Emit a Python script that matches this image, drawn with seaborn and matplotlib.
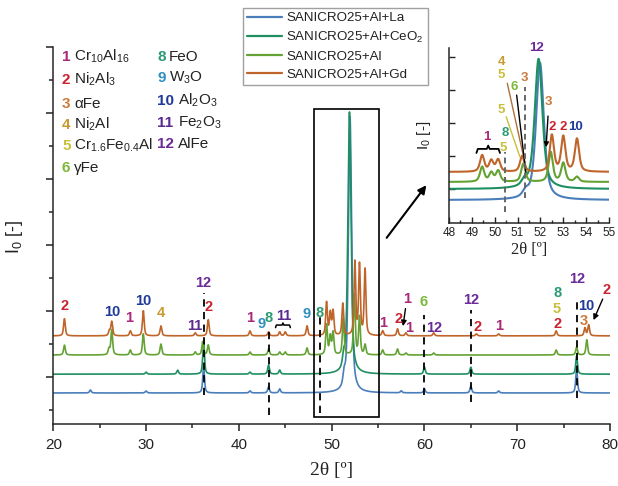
import numpy as np
import pandas as pd
import matplotlib
matplotlib.use("Agg")
import matplotlib.pyplot as plt
import seaborn as sns
from matplotlib.lines import Line2D
from matplotlib.patches import Rectangle
from matplotlib.ticker import MultipleLocator, FixedLocator

# ---------------------------------------------------------------- data
samples = ["SANICRO25+Al+La", "SANICRO25+Al+CeO$_2$", "SANICRO25+Al", "SANICRO25+Al+Gd"]
line_colors = ["#4a7ebb", "#1f8f62", "#63a233", "#c0652a"]

# reflections: 2θ position and intensity (a.u.)
la_pos = [24.0, 30.0, 36.2, 41.2, 43.2, 44.4, 51.35, 51.98, 57.5, 60.0, 65.0, 68.0, 76.4]
la_int = [0.09, 0.06, 0.79, 0.06, 0.18, 0.12, 0.35, 8.36, 0.06, 0.12, 0.21, 0.06, 0.73]

ceo2_pos = [30.0, 33.4, 36.2, 41.2, 43.2, 44.4, 51.3, 51.92, 60.0, 65.0, 76.4]
ceo2_int = [0.06, 0.12, 0.97, 0.06, 0.27, 0.12, 0.35, 7.93, 0.21, 0.21, 0.55]

al_pos = [21.2, 26.0, 26.3, 28.3, 29.7, 31.6, 35.3, 36.1, 36.7, 41.2, 43.2, 44.4,
          45.0, 47.35, 49.45, 49.85, 50.15, 51.25, 52.45, 53.0, 53.6, 55.5, 57.1,
          58.0, 61.0, 74.2, 76.4, 77.5]
al_int = [0.30, 0.18, 0.76, 0.15, 0.64, 0.33, 0.09, 0.40, 0.30, 0.09, 0.18, 0.09,
          0.09, 0.21, 0.91, 0.55, 0.67, 1.10, 1.82, 1.15, 0.30, 0.15, 0.18,
          0.06, 0.06, 0.15, 0.24, 0.46]

gd_pos = [21.2, 26.05, 26.3, 28.3, 29.7, 31.6, 35.3, 36.7, 41.2, 43.2, 44.4, 45.0,
          47.35, 49.45, 49.85, 50.15, 51.2, 52.5, 53.0, 53.6, 55.5, 57.1, 58.0,
          61.0, 65.6, 68.0, 74.2, 77.3, 77.7]
gd_int = [0.52, 0.15, 0.43, 0.15, 0.76, 0.30, 0.09, 0.49, 0.15, 0.12, 0.12, 0.12,
          0.30, 1.00, 0.67, 0.73, 0.97, 2.22, 2.13, 2.00, 0.15, 0.21, 0.09,
          0.09, 0.06, 0.06, 0.15, 0.24, 0.33]

peak_sets = [(la_pos, la_int), (ceo2_pos, ceo2_int), (al_pos, al_int), (gd_pos, gd_int)]

# phase key
phase_ids = [1, 2, 3, 4, 5, 6, 8, 9, 10, 11, 12]
phase_names = ["Cr$_{10}$Al$_{16}$", "Ni$_2$Al$_3$", "αFe", "Ni$_2$Al",
               "Cr$_{1.6}$Fe$_{0.4}$Al", "γFe", "FeO", "W$_3$O",
               "Al$_2$O$_3$", "Fe$_2$O$_3$", "AlFe"]
phase_colors = {1: "#a8287a", 2: "#c8232f", 3: "#cc7a3c", 4: "#c99a2e",
                5: "#c9bf3a", 6: "#7cb83a", 8: "#2a9a74", 9: "#2f8fc0",
                10: "#1f3a9a", 11: "#5a2a90", 12: "#6a2a98"}

# phase labels on the full pattern: id, 2θ, height
main_lab_id = [2, 10, 1, 10, 4, 11, 12, 2, 1, 9, 8, 11, 9, 8, 1, 2, 1, 1, 6, 12,
               12, 2, 1, 8, 5, 2, 12, 10, 3, 2]
main_lab_x = [21.2, 26.3, 28.2, 29.7, 31.6, 35.2, 36.2, 36.7, 41.2, 42.4, 43.2, 44.8,
              47.3, 48.7, 55.6, 57.2, 58.1, 58.4, 59.9, 61.1, 65.0, 65.7, 68.0,
              74.3, 74.3, 74.3, 76.5, 77.4, 77.2, 79.6]
main_lab_y = [3.16, 2.98, 2.80, 3.31, 2.95, 2.55, 3.86, 3.13, 2.80, 2.61, 2.80, 2.86,
              2.92, 2.95, 2.64, 2.77, 3.37, 2.49, 3.28, 2.49, 3.34, 2.52, 2.55,
              3.56, 3.07, 2.61, 3.98, 3.16, 2.70, 3.65]

# phase labels on the enlarged 48-55° window
ins_lab_id = [1, 8, 5, 12, 4, 5, 6, 3, 5, 3, 2, 2, 10]
ins_lab_x = [49.65, 50.45, 50.38, 51.84, 50.3, 50.3, 50.86, 51.3, 50.3, 52.34, 52.5, 53.0, 53.55]
ins_lab_y = [5.14, 5.39, 4.47, 10.57, 9.72, 8.92, 8.19, 8.74, 6.79, 7.28, 5.75, 5.75, 5.75]

# reference reflections marked with dashed lines
main_ref_x = [36.2, 43.2, 48.75, 60.0, 65.0, 76.4]
main_ref_top = [3.56, 2.52, 2.83, 2.89, 3.04, 3.43]
main_ref_bot = [0.46, -0.15, -0.09, 0.46, 0.24, 0.36]
ins_ref_x = [50.47, 51.32]
ins_ref_top = [4.23, 8.19]
ins_ref_bot = [0.57, 1.42]

# ---------------------------------------------------------------- helpers
def profile(x, pos, inten):
    y = np.zeros_like(x)
    for p, h in zip(pos, inten):
        w = 0.40 if h > 5 else (0.30 if p in (51.3, 51.35) else 0.22)
        d = (x - p) / (w / 2)
        y += h * (0.6 / (1 + d ** 2) + 0.4 * np.exp(-np.log(2) * d ** 2))
    return y


def build_frame(x, offsets):
    parts = []
    for name, (pos, inten), off in zip(samples, peak_sets, offsets):
        parts.append(pd.DataFrame({"two_theta": x,
                                   "intensity": profile(x, pos, inten) + off,
                                   "sample": name}))
    return pd.concat(parts, ignore_index=True)


def brace(ax, x0, x1, y, h, **kw):
    w = x1 - x0
    xm = 0.5 * (x0 + x1)
    xs = [x0, x0 + 0.06 * w, xm - 0.06 * w, xm, xm + 0.06 * w, x1 - 0.06 * w, x1]
    ys = [y, y + 0.55 * h, y + 0.55 * h, y + h, y + 0.55 * h, y + 0.55 * h, y]
    ax.plot(xs, ys, **kw)


# ---------------------------------------------------------------- style
sns.set_style("ticks")
plt.rcParams["font.family"] = ["Liberation Sans", "DejaVu Sans"]
plt.rcParams["mathtext.fontset"] = "custom"
plt.rcParams["mathtext.rm"] = "Liberation Sans"
plt.rcParams["mathtext.it"] = "Liberation Sans:italic"
plt.rcParams["mathtext.bf"] = "Liberation Sans:bold"
plt.rcParams["axes.linewidth"] = 1.1
text_col = "#222222"

W, H = 618, 486
fig = plt.figure(figsize=(W / 100, H / 100), dpi=100)

# ---------------------------------------------------------------- main pattern
ax = fig.add_axes([53.3 / W, 1 - 424 / H, (610 - 53.3) / W, (424 - 47) / H])
x_full = np.arange(20.0, 80.0001, 0.005)
df_main = build_frame(x_full, [0.52, 1.09, 1.67, 2.25])
sns.lineplot(data=df_main, x="two_theta", y="intensity", hue="sample",
             hue_order=samples, palette=line_colors, estimator=None, sort=False,
             linewidth=1.2, legend=False, ax=ax)

ax.set_xlim(20, 80)
ax.set_ylim(-0.42, 11.0)
ax.xaxis.set_major_locator(MultipleLocator(10))
ax.xaxis.set_minor_locator(MultipleLocator(5))
ax.yaxis.set_major_locator(FixedLocator([1, 3, 5, 7, 9, 11]))
ax.yaxis.set_minor_locator(FixedLocator([0, 2, 4, 6, 8, 10]))
ax.tick_params(axis="both", which="major", direction="out", length=5, width=1.1,
               labelsize=11, colors=text_col, pad=5)
ax.tick_params(axis="both", which="minor", direction="out", length=3, width=1.1)
ax.tick_params(axis="y", labelleft=False)
sns.despine(ax=ax)

ax.set_xlabel("2θ [º]", fontsize=14, family="Liberation Serif", color=text_col)
ax.xaxis.set_label_coords(0.5, -0.10)
ax.set_ylabel("I$_0$ [-]", fontsize=13, color=text_col)
ax.yaxis.set_label_coords(-0.051, 0.496)

ax.vlines(main_ref_x, main_ref_bot, main_ref_top, colors="k",
          linestyles=(0, (4, 3)), linewidth=1.3, zorder=5)
ax.add_patch(Rectangle((48.05, -0.2), 7.1, 9.32, fill=False, edgecolor="k",
                       linewidth=1.2, zorder=6))

for pid, xx, yy in zip(main_lab_id, main_lab_x, main_lab_y):
    ax.text(xx, yy, str(pid), color=phase_colors[pid], fontsize=10.5,
            fontweight="bold", ha="center", va="center", zorder=7)

brace(ax, 43.95, 45.55, 2.50, 0.14, color="k", linewidth=1.1)
arrow_kw = dict(arrowstyle="-|>", color="k", lw=1.0, mutation_scale=8)
ax.annotate("", xy=(57.65, 2.46), xytext=(58.0, 3.16), arrowprops=arrow_kw)
ax.annotate("", xy=(78.1, 2.65), xytext=(79.33, 3.44), arrowprops=arrow_kw)

# arrow pointing from the boxed window to the enlarged view
fig.add_artist(matplotlib.patches.FancyArrowPatch(
    (385 / W, 1 - 240 / H), (428 / W, 1 - 183 / H), transform=fig.transFigure,
    arrowstyle="-|>", mutation_scale=12, color="k", lw=1.5))

# ---------------------------------------------------------------- phase key
rows_c1 = [56, 79, 103, 124, 145, 167]
rows_c2 = [56, 77, 100, 122, 143]
key_pos = [(62, r) for r in rows_c1] + [(157, r) for r in rows_c2]
for pid, name, (px, py) in zip(phase_ids, phase_names, key_pos):
    fig.text(px / W, 1 - (py + 5) / H, str(pid), color=phase_colors[pid],
             fontsize=11, fontweight="bold", va="baseline", ha="left")
    off = 12 if pid < 10 else 21
    fig.text((px + off) / W, 1 - (py + 5) / H, name, color=text_col,
             fontsize=11, va="baseline", ha="left")

# ---------------------------------------------------------------- legend
handles = [Line2D([], [], color=c, lw=1.6) for c in line_colors]
leg = fig.legend(handles, samples, loc="upper left",
                 bbox_to_anchor=(243 / W, 1 - 8 / H), fontsize=9.6,
                 frameon=True, fancybox=False, edgecolor="#888888",
                 handlelength=2.6, handletextpad=0.35, labelspacing=0.42,
                 borderpad=0.3, borderaxespad=0)
leg.get_frame().set_linewidth(1.0)
for t in leg.get_texts():
    t.set_color(text_col)

# ---------------------------------------------------------------- enlarged view
axi = fig.add_axes([449 / W, 1 - 223 / H, 160 / W, 175 / H])
x_zoom = np.arange(48.0, 55.0001, 0.002)
df_zoom = build_frame(x_zoom, [1.30, 1.97, 2.40, 3.01])
sns.lineplot(data=df_zoom, x="two_theta", y="intensity", hue="sample",
             hue_order=samples, palette=line_colors, estimator=None, sort=False,
             linewidth=1.5, legend=False, ax=axi)
axi.set_xlim(48, 55)
axi.set_ylim(-0.1, 10.57)
axi.xaxis.set_major_locator(MultipleLocator(1))
axi.xaxis.set_minor_locator(MultipleLocator(0.5))
axi.yaxis.set_major_locator(FixedLocator([2, 4, 6, 8, 10]))
axi.tick_params(axis="both", which="major", direction="in", length=4, width=1.0,
                labelsize=8.5, colors=text_col, pad=3)
axi.tick_params(axis="both", which="minor", direction="in", length=2, width=1.0)
axi.tick_params(axis="y", labelleft=False)
sns.despine(ax=axi)
axi.patch.set_alpha(0)
axi.set_xlabel("2θ [º]", fontsize=12, family="Liberation Serif", color=text_col)
axi.xaxis.set_label_coords(0.5, -0.11)
axi.set_ylabel("I$_0$ [-]", fontsize=11, color=text_col)
axi.yaxis.set_label_coords(-0.10, 0.5)

axi.vlines(ins_ref_x, ins_ref_bot, ins_ref_top, colors="#666666",
           linestyles=(0, (3, 2)), linewidth=1.4, zorder=5)

for pid, xx, yy in zip(ins_lab_id, ins_lab_x, ins_lab_y):
    axi.text(xx, yy, str(pid), color=phase_colors[pid], fontsize=9.5,
             fontweight="bold", ha="center", va="center", zorder=7, clip_on=False)

brace(axi, 49.2, 50.23, 4.17, 0.45, color="k", linewidth=1.3)
axi.plot([50.55, 51.36], [8.42, 3.33], color="#b0703a", lw=1.0)
axi.plot([50.96, 51.36], [7.70, 3.00], color="k", lw=1.0)
axi.plot([50.50, 51.10], [6.38, 3.94], color="#c9bf3a", lw=1.0)
axi.annotate("", xy=(52.24, 4.35), xytext=(52.34, 6.59),
             arrowprops=dict(arrowstyle="-|>", color="k", lw=1.0, mutation_scale=7))

fig.savefig("out.png", dpi=100)
